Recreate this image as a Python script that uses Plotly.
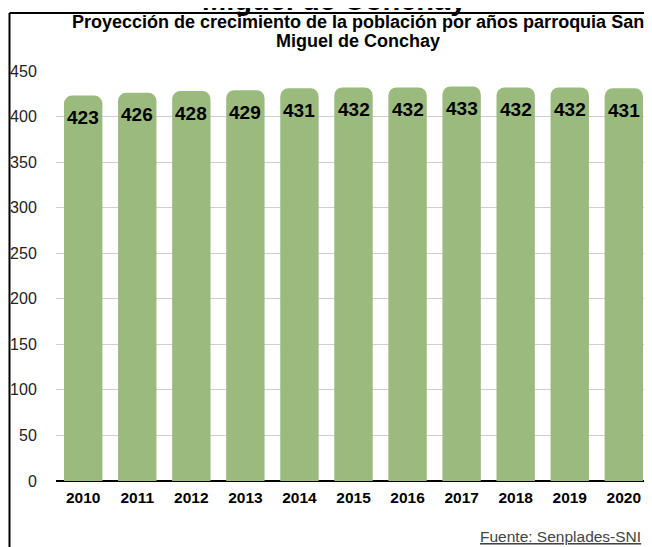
import plotly.graph_objs as go

# datos de la proyeccion
years = ["2010", "2011", "2012", "2013", "2014", "2015", "2016", "2017", "2018", "2019", "2020"]
population = [423, 426, 428, 429, 431, 432, 432, 433, 432, 432, 431]
yTicks = [0, 50, 100, 150, 200, 250, 300, 350, 400, 450]

bigTitle = "Miguel de Conchay"
titleLine1 = "Proyección de crecimiento de la población por años parroquia San"
titleLine2 = "Miguel de Conchay"
source = "Fuente: Senplades-SNI"

font = "Liberation Sans, Arial, Helvetica, sans-serif"
green = "#9BBA7D"

# the page body has an 8px margin, so the figure is 8px smaller and
# positions below are window pixels shifted by 8
off = 8
W, H = 652 - off, 547 - off
left, top, bottom = 56 - off, 70.5 - off, 66
plotW, plotH = W - left, H - top - bottom
catW = 54.06  # pixels per category (last bar has to end before x=644)


def px(x):
    return (x - off - left) / plotW


def py(y):
    return (H - bottom - (y - off)) / plotH


x0 = -(83.2 - 56) / catW

bars = go.Bar(
    x=years,
    y=population,
    marker=dict(color=green, line=dict(width=0)),
    hoverinfo="x+y",
)

labels = []
for i, val in enumerate(population):
    labels.append(dict(
        x=i, y=val, xref="x", yref="y",
        text="<b>%d</b>" % val, showarrow=False,
        yanchor="middle", yshift=-22,
        font=dict(family=font, size=19, color="black"),
    ))

texts = [
    dict(x=px(334), y=py(-0.5), text="<b>" + bigTitle + "</b>", font=dict(size=29)),
    dict(x=px(358), y=py(21.5), text="<b>" + titleLine1 + "</b>", font=dict(size=18)),
    dict(x=px(358), y=py(40.5), text="<b>" + titleLine2 + "</b>", font=dict(size=18)),
]
for t in texts:
    t.update(xref="paper", yref="paper", showarrow=False, xanchor="center", yanchor="middle")
    t["font"].update(family=font, color="black")

footer = dict(
    x=px(643), y=py(537), xref="paper", yref="paper", showarrow=False,
    xanchor="right", yanchor="middle", text=source,
    font=dict(family=font, size=15.5, color="#444444", lineposition="under"),
)

frame = [
    dict(type="line", xref="paper", yref="paper", x0=px(9.5), x1=px(660), y0=py(12.5), y1=py(12.5),
         line=dict(color="black", width=2)),
    dict(type="line", xref="paper", yref="paper", x0=px(9.5), x1=px(9.5), y0=py(12.5), y1=py(560),
         line=dict(color="black", width=2)),
]

lay = go.Layout(
    width=W, height=H,
    margin=dict(l=left, r=0, t=top, b=bottom, pad=0, autoexpand=False),
    paper_bgcolor="white", plot_bgcolor="white",
    showlegend=False,
    bargap=0.29,
    barcornerradius=8,
    font=dict(family=font, color="black"),
    xaxis=dict(
        type="category", range=[x0, x0 + plotW / catW],
        tickfont=dict(family=font, size=15.5, color="black", weight="bold"),
        ticks="outside", ticklen=2, tickcolor="rgba(0,0,0,0)",
        showgrid=False, showline=False, zeroline=False, automargin=False,
    ),
    yaxis=dict(
        range=[0, 450], tickvals=yTicks,
        tickfont=dict(family=font, size=16, color="#222222"),
        ticks="outside", ticklen=15, tickcolor="rgba(0,0,0,0)",
        showgrid=True, gridcolor="#CFCFCF", gridwidth=1,
        zeroline=True, zerolinecolor="black", zerolinewidth=2,
        showline=False, automargin=False,
    ),
    annotations=labels + texts + [footer],
    shapes=frame,
)

fig = go.Figure(data=[bars], layout=lay)
fig.write_html("out.html")
